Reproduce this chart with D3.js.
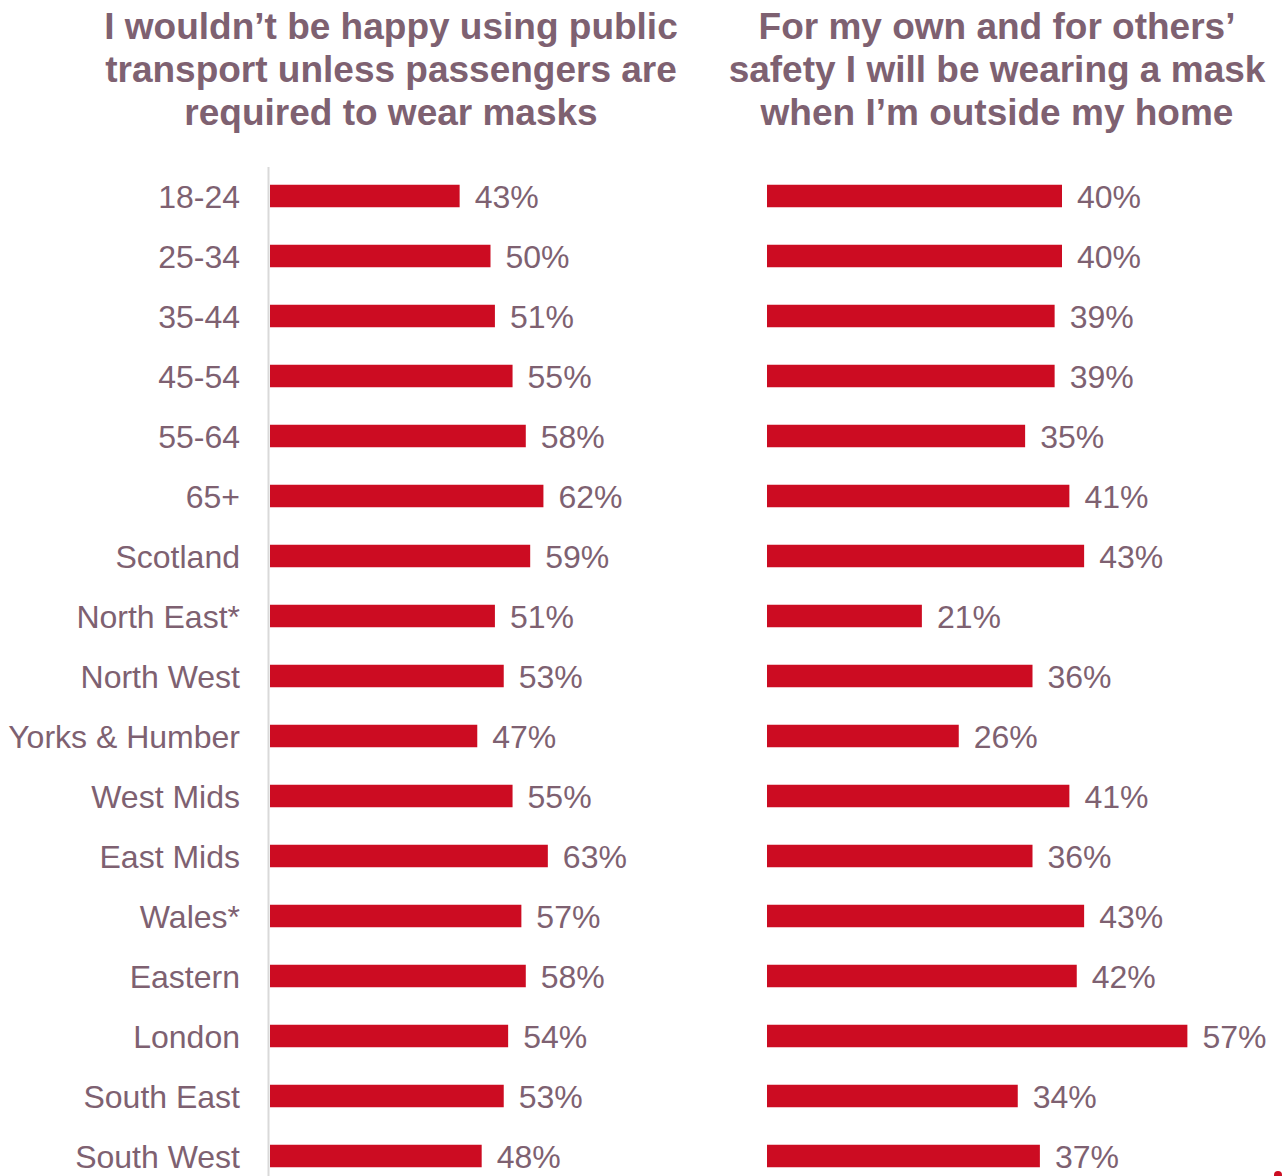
<!DOCTYPE html>
<html>
<head>
<meta charset="utf-8">
<script src="https://cdn.jsdelivr.net/npm/d3@7"></script>
<style>
  body { margin: 0; background: #fff; }
  svg { display: block; font-family: "Liberation Sans", Arial, sans-serif; }
</style>
</head>
<body>
<div id="chart"></div>
<script>
// Data
const categories = ['18-24', '25-34', '35-44', '45-54', '55-64', '65+', 'Scotland', 'North East*',
    'North West', 'Yorks & Humber', 'West Mids', 'East Mids', 'Wales*', 'Eastern', 'London',
    'South East', 'South West'];
const transportValues = [43, 50, 51, 55, 58, 62, 59, 51, 53, 47, 55, 63, 57, 58, 54, 53, 48];
const maskValues = [40, 40, 39, 39, 35, 41, 43, 21, 36, 26, 41, 36, 43, 42, 57, 34, 37];
const leftTitle = ['I wouldn’t be happy using public', 'transport unless passengers are', 'required to wear masks'];
const rightTitle = ['For my own and for others’', 'safety I will be wearing a mask', 'when I’m outside my home'];

const width = 1283, height = 1176;
const textColor = '#7e6171';
const barColor = '#cc0c22';

const svg = d3.select('#chart')
    .append('svg')
    .attr('width', width)
    .attr('height', height);

// Row scale shared by both panels
const y = d3.scaleBand()
    .domain(categories)
    .range([166, 166 + categories.length * 60])
    .paddingInner(0.625)
    .paddingOuter(0.3125);

const xLeft = d3.scaleLinear().domain([0, 100]).range([270, 711]);
const xRight = d3.scaleLinear().domain([0, 100]).range([767, 1504.5]);

// Titles
function drawTitle(lines, cx) {
    svg.append('text')
        .attr('text-anchor', 'middle')
        .attr('font-size', '37px')
        .attr('font-weight', 'bold')
        .attr('fill', textColor)
        .selectAll('tspan')
        .data(lines)
        .enter()
        .append('tspan')
        .attr('x', cx)
        .attr('y', (d, i) => 39 + i * 43)
        .text(d => d);
}
drawTitle(leftTitle, 391);
drawTitle(rightTitle, 997);

// Left axis line
svg.append('line')
    .attr('x1', 268.5).attr('x2', 268.5)
    .attr('y1', 167).attr('y2', height)
    .attr('stroke', '#d9d9d9')
    .attr('stroke-width', 2);

// Category labels
svg.append('g')
    .selectAll('text')
    .data(categories)
    .enter()
    .append('text')
    .attr('x', 240)
    .attr('y', d => y(d) + y.bandwidth() / 2)
    .attr('dy', '0.36em')
    .attr('text-anchor', 'end')
    .attr('font-size', '32px')
    .attr('fill', textColor)
    .text(d => d);

// Bars + value labels for one panel
function drawPanel(values, x) {
    const g = svg.append('g');
    g.selectAll('rect')
        .data(values)
        .enter()
        .append('rect')
        .attr('x', x(0))
        .attr('y', (d, i) => y(categories[i]))
        .attr('width', d => x(d) - x(0))
        .attr('height', y.bandwidth())
        .attr('fill', barColor);

    g.selectAll('text')
        .data(values)
        .enter()
        .append('text')
        .attr('x', d => x(d) + 15)
        .attr('y', (d, i) => y(categories[i]) + y.bandwidth() / 2)
        .attr('dy', '0.36em')
        .attr('font-size', '32px')
        .attr('fill', textColor)
        .text(d => d + '%');
}
drawPanel(transportValues, xLeft);
drawPanel(maskValues, xRight);

// small red mark in corner
svg.append('circle')
    .attr('cx', 1278).attr('cy', 1175)
    .attr('r', 4)
    .attr('fill', barColor);
</script>
</body>
</html>
